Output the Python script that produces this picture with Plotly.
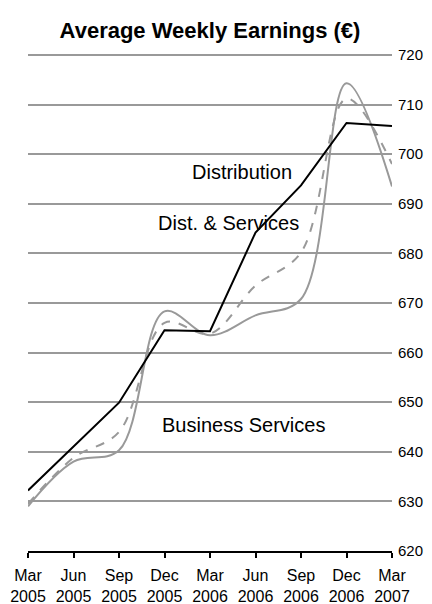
import plotly.graph_objects as go

quarters = ["Mar<br>2005", "Jun<br>2005", "Sep<br>2005", "Dec<br>2005", "Mar<br>2006",
            "Jun<br>2006", "Sep<br>2006", "Dec<br>2006", "Mar<br>2007"]
distribution = [632.2, 641.0, 649.9, 664.5, 664.3, 684.2, 693.7, 706.3, 705.7]
dist_services = [629.5, 638.8, 644.0, 666.0, 663.8, 673.5, 680.2, 711.2, 698.0]
business_services = [629.0, 638.0, 640.3, 668.3, 663.5, 667.5, 670.8, 714.3, 693.5]
y_ticks = [620, 630, 640, 650, 660, 670, 680, 690, 700, 710, 720]

x = list(range(len(quarters)))
GRAY = "#999999"
FONT = "Liberation Sans, Arial, sans-serif"

fig = go.Figure()
fig.add_trace(go.Scatter(x=x, y=business_services, mode="lines",
                         line=dict(color=GRAY, width=2, shape="spline", smoothing=1),
                         name="Business Services"))
fig.add_trace(go.Scatter(x=x, y=dist_services, mode="lines",
                         line=dict(color=GRAY, width=2, dash="dash", shape="spline", smoothing=1),
                         name="Dist. & Services"))
fig.add_trace(go.Scatter(x=x, y=distribution, mode="lines",
                         line=dict(color="black", width=2),
                         name="Distribution"))

for txt, ax, ay in [("Distribution", 4.70, 696.4), ("Dist. & Services", 4.40, 686.1),
                    ("Business Services", 4.73, 645.5)]:
    fig.add_annotation(x=ax, y=ay, text=txt, showarrow=False,
                       font=dict(size=20, color="black", family=FONT), yanchor="middle")

W, H = 424, 596
fig.update_layout(
    width=W, height=H,
    margin=dict(l=20, r=40, t=45, b=53, autoexpand=False),
    paper_bgcolor="white", plot_bgcolor="white",
    showlegend=False,
    title=dict(text="<b>Average Weekly Earnings (€)</b>", x=0.5, xanchor="center",
               xref="paper", y=1 - 22 / H, yanchor="middle",
               font=dict(size=22, color="black", family=FONT)),
    font=dict(family=FONT, size=16, color="black"),
)
fig.update_xaxes(range=[0, 8], tickvals=x, ticktext=quarters, automargin=False,
                 showgrid=False, showline=True, linecolor="black", linewidth=2,
                 ticks="outside", ticklen=5, tickwidth=2, tickcolor="black",
                 ticklabelstandoff=4,
                 tickfont=dict(size=16, family=FONT), zeroline=False)
fig.update_yaxes(range=[620, 720.4], tickvals=y_ticks, side="right", automargin=False,
                 showgrid=True, gridcolor=GRAY, gridwidth=2, zeroline=False,
                 showline=False, ticks="", ticklabelstandoff=5,
                 tickfont=dict(size=15, family=FONT))

fig.write_html("out.html")
